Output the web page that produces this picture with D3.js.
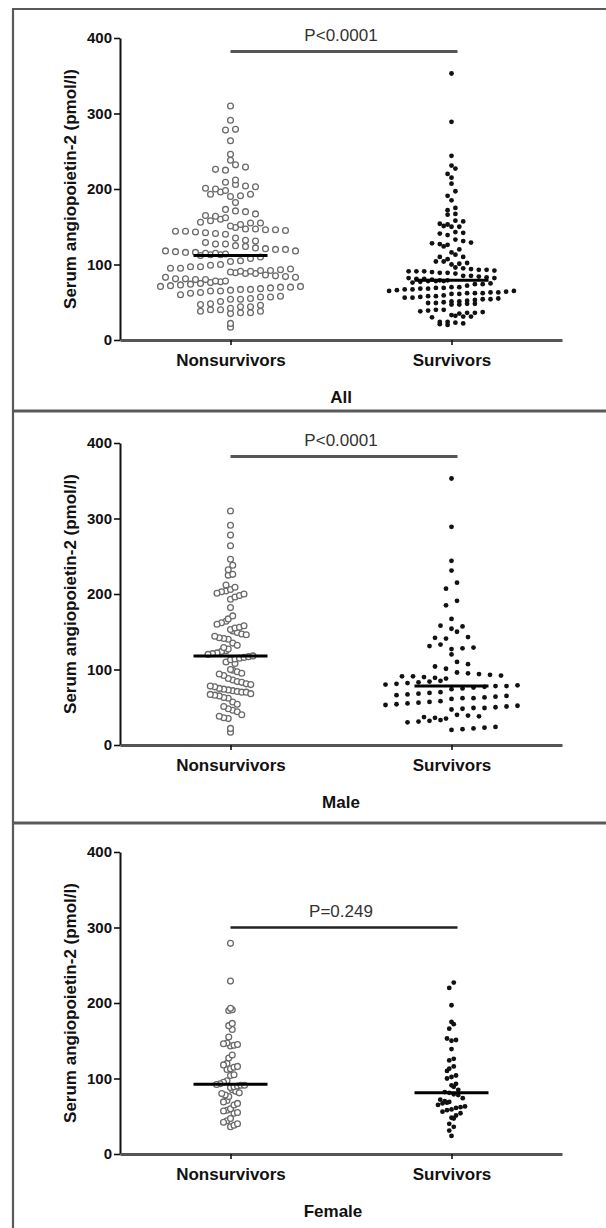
<!DOCTYPE html>
<html>
<head>
<meta charset="utf-8">
<script src="https://cdn.jsdelivr.net/npm/d3@7"></script>
<style>
  body { margin: 0; background: #fff; }
  text { font-family: "Liberation Sans", Arial, Helvetica, sans-serif; }
</style>
</head>
<body>
<svg id="chart" width="606" height="1228"></svg>
<script>
// categories and axis ticks
const groups = ['Nonsurvivors', 'Survivors'];
const yTicks = [0, 100, 200, 300, 400];
const panelNames = ['All', 'Male', 'Female'];
const pLabels = ['P<0.0001', 'P<0.0001', 'P=0.249'];

// serum angiopoietin-2 (pmol/l)
const maleNonsurvivors = [310, 291, 278, 264, 246, 238, 232, 226, 225,
    212, 209, 206, 204, 203, 201, 200, 198, 196, 193,
    182, 171, 167,
    164, 162, 160, 158, 156, 155, 153, 151, 149, 147, 146, 144, 142, 141, 140,
    135, 132, 129, 127, 125, 124, 122, 121, 120, 118, 117, 116, 115, 114, 113,
    110, 108, 100, 99, 97, 95, 94, 92,
    88, 86, 84, 83, 81, 80, 78, 77, 75, 74, 73, 72, 71, 70, 70,
    68, 67, 66, 65, 63, 62,
    57, 54, 51, 48, 46, 44,
    40, 38, 36, 35,
    22, 17];
const maleSurvivors = [353, 289, 244, 231, 215, 207, 191, 185, 167, 158, 157, 154, 150,
    143, 142, 141, 133, 131, 129, 128, 127, 120, 110, 107, 104, 101,
    96, 95, 94, 93, 92, 91, 91, 90, 89, 88,
    85, 84, 83, 82, 81, 80, 79, 78, 78, 77, 76, 75, 74,
    70, 69, 68, 67, 66, 65, 64, 63, 62, 62, 61,
    58, 57, 56, 55, 54, 53, 52, 51, 50, 49, 49, 48, 47,
    40, 39, 38, 37, 36, 35, 33, 32, 31, 30,
    24, 23, 22, 21, 20];
const femaleNonsurvivors = [279, 229, 193, 191, 190, 173, 170, 165, 155,
    147, 146, 145, 144, 143, 131, 127, 120, 118, 116, 115, 113, 112, 105, 104,
    97, 95, 93, 92, 91, 91, 90, 89, 88,
    85, 83, 81, 80, 78, 76, 71, 69, 67, 65,
    60, 58, 57, 55, 54, 47, 44, 42, 40, 38, 36];
const femaleSurvivors = [227, 220, 197, 175, 172, 166, 153, 151, 150, 139, 126, 124,
    116, 113, 110, 104, 102, 100, 93, 91, 89,
    85, 82, 81, 79, 78, 74, 72, 70, 69, 68, 67,
    65, 63, 62, 61, 59, 58, 56, 54, 51, 48, 47, 40, 36, 31, 24];

const panelData = [
    [maleNonsurvivors.concat(femaleNonsurvivors), maleSurvivors.concat(femaleSurvivors)],
    [maleNonsurvivors, maleSurvivors],
    [femaleNonsurvivors, femaleSurvivors]
];

// layout of each panel: axis top, bar level, title x, swarm row height / dot step
const layout = [
    {top: 38, bar: 382, titleX: 341, swarm: [{bin: 9, step: 10}, {bin: 7, step: 7.8}]},
    {top: 443, bar: 382, titleX: 341, swarm: [{bin: 10, step: 4.5}, {bin: 10, step: 11}]},
    {top: 852, bar: 300, titleX: 333, swarm: [{bin: 10, step: 3.5}, {bin: 8, step: 4.5}]}
];
const axisHeight = 302;

const svg = d3.select('#chart');
const x = d3.scalePoint().domain(groups).range([120, 562]).padding(0.5);

/**
 * Prism style scatter: values are binned into rows, each row spread
 * around the column centre.
 */
function swarm(values, y, bin, step) {
    const base = y(0);
    const rows = d3.groups(values.slice().sort(d3.ascending), v => Math.round((base - y(v)) / bin));
    let out = [];
    rows.forEach(([, vals]) => {
        const n = vals.length;
        const slots = d3.range(n).map(k => (k - (n - 1) / 2) * step);
        const order = d3.range(n).sort((a, b) => Math.abs(slots[a]) - Math.abs(slots[b]) || a - b);
        // take values alternately from the low and high end of the row
        let mixed = [];
        let lo = 0, hi = n - 1;
        while (lo <= hi) {
            mixed.push(vals[lo++]);
            if (lo <= hi) mixed.push(vals[hi--]);
        }
        mixed.forEach((v, i) => out.push({value: v, dx: slots[order[i]]}));
    });
    return out;
}

// frame
const frame = svg.append('g').attr('stroke', '#5a5a5a').attr('fill', 'none');
frame.append('line').attr('x1', 13).attr('x2', 13).attr('y1', 9).attr('y2', 1228).attr('stroke-width', 2.2);
[9, 411, 823].forEach(yy => {
    frame.append('line').attr('x1', 12).attr('x2', 606).attr('y1', yy).attr('y2', yy)
        .attr('stroke-width', yy === 9 ? 2.2 : 3);
});

layout.forEach((L, pi) => {
    const y = d3.scaleLinear().domain([0, 400]).range([L.top + axisHeight, L.top]);
    const g = svg.append('g');

    // y axis
    const ya = g.append('g').attr('transform', 'translate(120,0)')
        .call(d3.axisLeft(y).tickValues(yTicks).tickSize(6).tickSizeOuter(0).tickPadding(2));
    ya.select('.domain').attr('stroke', '#111').attr('stroke-width', 2);
    ya.selectAll('.tick line').attr('stroke', '#111').attr('stroke-width', 1.6);
    ya.selectAll('.tick text').attr('font-size', 15).attr('font-weight', 'bold').attr('fill', '#111')
        .style('font-family', '"Liberation Sans", Arial, sans-serif');

    // x axis
    const xa = g.append('g').attr('transform', `translate(0,${y(0)})`)
        .call(d3.axisBottom(x).tickSize(5).tickSizeOuter(0).tickPadding(9));
    xa.select('.domain').attr('stroke', '#555').attr('stroke-width', 3);
    xa.selectAll('.tick line').attr('stroke', '#111').attr('stroke-width', 1.6);
    xa.selectAll('.tick text').attr('font-size', 17).attr('font-weight', 'bold').attr('fill', '#111')
        .style('font-family', '"Liberation Sans", Arial, sans-serif');

    // y label
    g.append('text')
        .attr('transform', `translate(70,${L.top + axisHeight / 2}) rotate(-90)`)
        .attr('text-anchor', 'middle').attr('dy', '0.35em')
        .attr('font-size', 17).attr('font-weight', 'bold').attr('fill', '#111')
        .text('Serum angiopoietin-2 (pmol/l)');

    // significance bar
    const bx1 = x(groups[0]), bx2 = x(groups[1]) + 6;
    g.append('line').attr('x1', bx1).attr('x2', bx2).attr('y1', y(L.bar)).attr('y2', y(L.bar))
        .attr('stroke', pi === 2 ? '#222' : '#555').attr('stroke-width', pi === 2 ? 2.5 : 3);
    g.append('text').attr('x', (bx1 + bx2) / 2 - 3).attr('y', y(L.bar) - 11)
        .attr('text-anchor', 'middle').attr('font-size', 17).attr('fill', '#333')
        .text(pLabels[pi]);

    // points
    panelData[pi].forEach((vals, gi) => {
        const cx = x(groups[gi]);
        const pts = swarm(vals, y, L.swarm[gi].bin, L.swarm[gi].step);
        const dots = g.append('g').selectAll('circle').data(pts).join('circle')
            .attr('cx', d => cx + d.dx)
            .attr('cy', d => y(d.value));
        if (gi === 0) {
            dots.attr('r', 2.9).attr('fill', '#fff').attr('stroke', '#6a6a6a').attr('stroke-width', 1.3);
        } else {
            dots.attr('r', 2.4).attr('fill', '#111');
        }
        // median line
        const med = d3.median(vals);
        g.append('line').attr('x1', cx - 37).attr('x2', cx + 37)
            .attr('y1', y(med)).attr('y2', y(med))
            .attr('stroke', '#000').attr('stroke-width', 3);
    });

    // panel title
    g.append('text').attr('x', L.titleX).attr('y', L.top + 365)
        .attr('text-anchor', 'middle').attr('font-size', 17).attr('font-weight', 'bold').attr('fill', '#111')
        .text(panelNames[pi]);
});
</script>
</body>
</html>
